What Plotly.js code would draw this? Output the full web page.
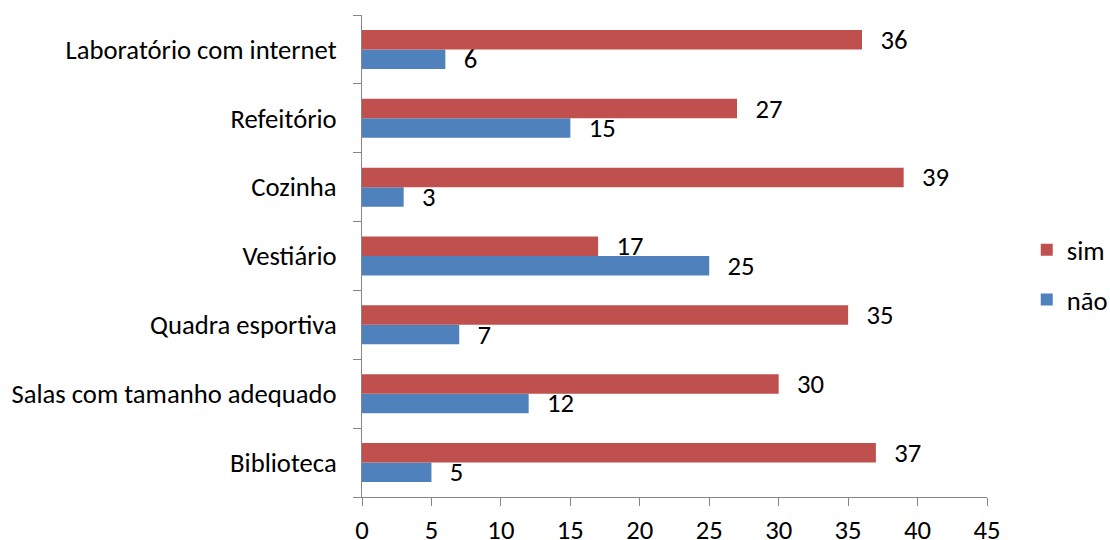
<!DOCTYPE html>
<html>
<head>
<meta charset="utf-8">
<script src="https://cdn.plot.ly/plotly-3.0.1.min.js"></script>
<style>html,body{margin:0;padding:0;background:#fff}#chart{width:1110px;height:540px}</style>
</head>
<body>
<div id="chart"></div>
<script>
const categories = ["Biblioteca", "Salas com tamanho adequado", "Quadra esportiva", "Vestiário", "Cozinha", "Refeitório", "Laboratório com internet"];
const simValues = [37, 30, 35, 17, 39, 27, 36];
const naoValues = [5, 12, 7, 25, 3, 15, 6];
const xTicks = [0, 5, 10, 15, 20, 25, 30, 35, 40, 45];

const FONT = "Carlito, Calibri, Lato, sans-serif";
const FS = 26.67;
const common = {
  type: "bar",
  orientation: "h",
  y: categories,
  textposition: "outside",
  constraintext: "none",
  texttemplate: "  \u200A%{x}",
  textfont: {family: FONT, size: FS, color: "#000"},
  cliponaxis: false,
  hoverinfo: "x+y"
};
const traces = [
  Object.assign({}, common, {name: "não", legendgroup: "nao", legendrank: 2, x: naoValues, marker: {color: "#4F81BD"}}),
  Object.assign({}, common, {name: "sim", legendgroup: "sim", legendrank: 1, x: simValues, marker: {color: "#C0504D"}})
];

const layout = {
  width: 1110, height: 540,
  margin: {l: 362, r: 123, t: 15, b: 43},
  paper_bgcolor: "#fff", plot_bgcolor: "#fff",
  barmode: "group",
  bargap: 0.434,
  bargroupgap: 0,
  font: {family: FONT, size: FS, color: "#000"},
  xaxis: {
    range: [0, 45], tickvals: xTicks, ticktext: xTicks.map(String),
    showgrid: false, zeroline: false,
    showline: true, linecolor: "#868686", linewidth: 1,
    ticks: "outside", ticklen: 8, tickcolor: "#868686",
    ticklabelstandoff: 1,
    tickfont: {family: FONT, size: FS, color: "#000"}
  },
  yaxis: {
    type: "category", categoryorder: "array", categoryarray: categories,
    showgrid: false, zeroline: false,
    showline: true, linecolor: "#868686", linewidth: 1,
    ticks: "outside", ticklen: 8, tickcolor: "#868686", tickson: "boundaries",
    ticklabelstandoff: 19,
    tickfont: {family: FONT, size: FS, color: "#000"}
  },
  legend: {
    xref: "container", yref: "container",
    x: 0.925, xanchor: "left", y: 0.4907, yanchor: "middle",
    traceorder: "grouped",
    font: {family: FONT, size: FS, color: "#000"},
    tracegroupgap: 12,
    bgcolor: "rgba(0,0,0,0)", borderwidth: 0
  },
  showlegend: true
};

Plotly.newPlot("chart", traces, layout, {displayModeBar: false, staticPlot: true});
</script>
</body>
</html>
